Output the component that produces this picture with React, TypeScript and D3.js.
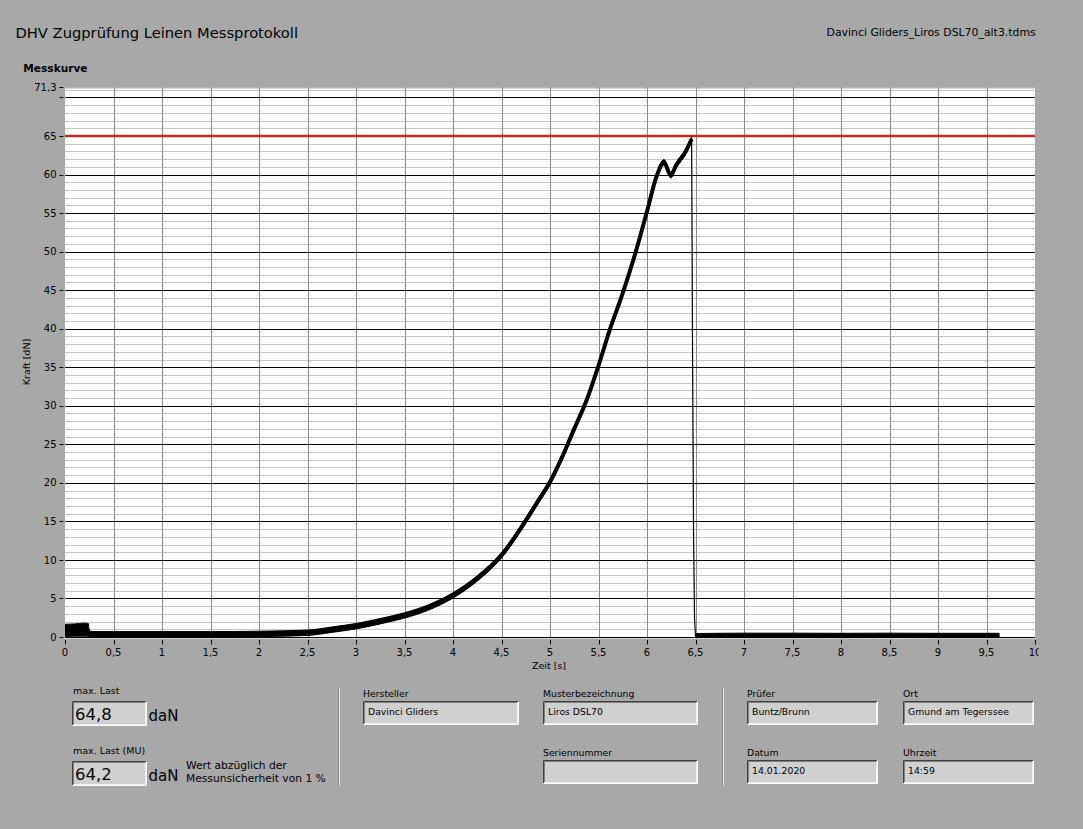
import React from "react";
import * as d3 from "d3";

// ---------- data ----------
const titleText = "DHV Zugprüfung Leinen Messprotokoll";
const fileName = "Davinci Gliders_Liros DSL70_alt3.tdms";
const chartTitle = "Messkurve";
const xAxisLabel = "Zeit [s]";
const yAxisLabel = "Kraft [dN]";

const xTickValues = [0, 0.5, 1, 1.5, 2, 2.5, 3, 3.5, 4, 4.5, 5, 5.5, 6, 6.5, 7, 7.5, 8, 8.5, 9, 9.5, 10];
const yTickValues = [0, 5, 10, 15, 20, 25, 30, 35, 40, 45, 50, 55, 60, 65, 70];
const yLabelValues = [0, 5, 10, 15, 20, 25, 30, 35, 40, 45, 50, 55, 60, 65];
const yMax = 71.3;
const limitForce = 65;

// measurement before the break (mean force and half-range of the noise band)
const riseTime = [0, 0.1, 0.2, 0.24, 0.25, 0.5, 1.0, 1.5, 2.0, 2.5, 2.75, 3.0, 3.25, 3.5, 3.75, 4.0, 4.25, 4.5, 4.75, 4.86, 5.0, 5.12, 5.25, 5.38, 5.5, 5.62, 5.75, 5.88, 6.0, 6.1, 6.175, 6.245, 6.3, 6.4, 6.46];
const riseForce = [0.85, 0.9, 0.95, 0.9, 0.35, 0.35, 0.35, 0.35, 0.4, 0.55, 0.95, 1.4, 2.05, 2.8, 3.85, 5.4, 7.6, 10.6, 15.1, 17.3, 20.1, 23.2, 27.0, 30.8, 35.2, 40.0, 44.6, 49.8, 55.2, 59.8, 61.6, 59.9, 61.2, 63.0, 64.6];
const riseSpread = [0.8, 0.8, 0.85, 0.85, 0.35, 0.35, 0.35, 0.35, 0.35, 0.35, 0.35, 0.35, 0.35, 0.35, 0.35, 0.35, 0.35, 0.35, 0.35, 0.35, 0.35, 0.35, 0.35, 0.35, 0.35, 0.35, 0.35, 0.35, 0.35, 0.35, 0.35, 0.35, 0.35, 0.35, 0.3];

// the break
const breakTime = [6.46, 6.47, 6.48, 6.49, 6.5];
const breakForce = [64.6, 36, 13.5, 2.5, 0];

// after the break
const restTime = [6.51, 7.0, 7.5, 8.0, 8.5, 9.0, 9.5, 9.63];
const restForce = [0.2, 0.22, 0.22, 0.2, 0.22, 0.2, 0.2, 0.2];
const restSpread = [0.25, 0.28, 0.28, 0.28, 0.28, 0.28, 0.28, 0.28];

// info panel
const maxLast = "64,8";
const maxLastMU = "64,2";
const unit = "daN";
const fields = [
  { label: "Hersteller", value: "Davinci Gliders" },
  { label: "Musterbezeichnung", value: "Liros DSL70" },
  { label: "Seriennummer", value: "" },
  { label: "Prüfer", value: "Buntz/Brunn" },
  { label: "Ort", value: "Gmund am Tegerssee" },
  { label: "Datum", value: "14.01.2020" },
  { label: "Uhrzeit", value: "14:59" },
];

// ---------- layout ----------
const W = 1083;
const H = 829;
const FONT = "'DejaVu Sans', Verdana, sans-serif";
const BG = "#a8a8a8";

const fieldBoxes: Record<string, { x: number; y: number; w: number; h: number }> = {
  Hersteller: { x: 363, y: 701, w: 156, h: 24 },
  Musterbezeichnung: { x: 543, y: 701, w: 155, h: 24 },
  Seriennummer: { x: 543, y: 760, w: 155, h: 24 },
  "Prüfer": { x: 747, y: 701, w: 131, h: 24 },
  Ort: { x: 903, y: 701, w: 131, h: 24 },
  Datum: { x: 747, y: 760, w: 131, h: 24 },
  Uhrzeit: { x: 903, y: 760, w: 131, h: 24 },
};

const fmt = (v: number) => String(v).replace(".", ",");

function SunkenBox({ x, y, w, h }: { x: number; y: number; w: number; h: number }) {
  return (
    <g>
      <rect x={x} y={y} width={w} height={h} fill="#d0d0d0" />
      <path d={`M${x + 0.5},${y + h} V${y + 0.5} H${x + w}`} stroke="#404040" strokeWidth={1} fill="none" />
      <path d={`M${x + 1.5},${y + h - 1} V${y + 1.5} H${x + w - 1}`} stroke="#808080" strokeWidth={1} fill="none" />
      <path d={`M${x},${y + h - 0.5} H${x + w - 0.5} V${y}`} stroke="#ffffff" strokeWidth={1} fill="none" />
      <path d={`M${x + 1},${y + h - 1.5} H${x + w - 1.5} V${y + 1}`} stroke="#f0f0f0" strokeWidth={1} fill="none" />
    </g>
  );
}

export default function App() {
  const x = d3.scaleLinear().domain([0, 10]).range([65, 1035]);
  const y = d3.scaleLinear().domain([0, yMax]).range([637, 87.4]);

  const plotL = x(0);
  const plotR = x(10);
  const plotT = y(yMax);
  const plotB = y(0) + 1.5;

  const minorY = d3.range(1, 72).filter((v) => v % 5 !== 0);

  const riseData = riseTime.map((t, i) => ({ t, v: riseForce[i], s: riseSpread[i] }));
  const restData = restTime.map((t, i) => ({ t, v: restForce[i], s: restSpread[i] }));
  const breakData = breakTime.map((t, i) => ({ t, v: breakForce[i] }));

  const band = d3
    .area<{ t: number; v: number; s: number }>()
    .x((d) => x(d.t))
    .y0((d) => y(d.v - d.s))
    .y1((d) => y(d.v + d.s))
    .curve(d3.curveMonotoneX);
  const smoothLine = d3
    .line<{ t: number; v: number }>()
    .x((d) => x(d.t))
    .y((d) => y(d.v))
    .curve(d3.curveMonotoneX);
  const line = d3
    .line<{ t: number; v: number }>()
    .x((d) => x(d.t))
    .y((d) => y(d.v));

  return (
    <div style={{ position: "absolute", left: 0, top: 0, width: W, height: H }}>
      <svg width={W} height={H} style={{ display: "block" }} fontFamily={FONT}>
        <defs>
          <clipPath id="plotClip">
            <rect x={plotL} y={plotT} width={plotR - plotL} height={plotB - plotT} />
          </clipPath>
          <clipPath id="xLabClip">
            <rect x={0} y={0} width={1038.5} height={H} />
          </clipPath>
        </defs>
        <rect x={0} y={0} width={W} height={H} fill={BG} />

        {/* header */}
        <text x={15.5} y={37.7} fontSize={14.7} fill="#000">{titleText}</text>
        <text x={826.5} y={36} fontSize={10.9} fill="#000">{fileName}</text>
        <text x={23.3} y={71.5} fontSize={10.6} fontWeight="bold" fill="#000">{chartTitle}</text>

        {/* plot area */}
        <rect x={plotL} y={plotT} width={plotR - plotL} height={plotB - plotT} fill="#ffffff" />
        <line x1={plotL} x2={plotR} y1={plotT + 0.5} y2={plotT + 0.5} stroke="#9a9a9a" />
        {minorY.map((v) => (
          <line key={"mn" + v} x1={plotL} x2={plotR} y1={Math.round(y(v)) + 0.5} y2={Math.round(y(v)) + 0.5} stroke="#c6c6c6" strokeWidth={1} />
        ))}
        {xTickValues.filter((t) => t > 0 && t < 10).map((t) => (
          <line key={"vx" + t} x1={Math.round(x(t)) + 0.5} x2={Math.round(x(t)) + 0.5} y1={plotT} y2={plotB} stroke="#8c8c8c" strokeWidth={1} />
        ))}
        {yTickValues.map((v) => (
          <line key={"mj" + v} x1={plotL} x2={plotR} y1={Math.round(y(v)) + 0.5} y2={Math.round(y(v)) + 0.5} stroke="#000" strokeWidth={1} />
        ))}
        <line x1={plotL} x2={plotR} y1={y(limitForce)} y2={y(limitForce)} stroke="#c42a22" strokeWidth={2.4} />

        {/* curve */}
        <g clipPath="url(#plotClip)">
          <path d={band(riseData) || ""} fill="#000" stroke="#000" strokeWidth={1} />
          <path d={smoothLine(riseData) || ""} fill="none" stroke="#000" strokeWidth={4} strokeLinejoin="round" />
          <path d={line(breakData) || ""} fill="none" stroke="#000" strokeWidth={1.2} />
          <path d={band(restData) || ""} fill="#000" stroke="#000" strokeWidth={1} />
        </g>

        {/* y axis */}
        {yTickValues.map((v) => (
          <line key={"yt" + v} x1={59} x2={63.5} y1={Math.round(y(v)) + 0.5} y2={Math.round(y(v)) + 0.5} stroke="#000" />
        ))}
        <line x1={59} x2={63.5} y1={Math.round(y(yMax)) + 0.5} y2={Math.round(y(yMax)) + 0.5} stroke="#000" />
        {yLabelValues.map((v) => (
          <text key={"yl" + v} x={56.5} y={y(v)} dy="0.36em" textAnchor="end" fontSize={10} fill="#000">{fmt(v)}</text>
        ))}
        <text x={56.5} y={y(yMax)} dy="0.36em" textAnchor="end" fontSize={10} fill="#000">{fmt(yMax)}</text>
        <text transform={`translate(30,362) rotate(-90)`} textAnchor="middle" fontSize={9.5} fill="#000">{yAxisLabel}</text>

        {/* x axis */}
        {xTickValues.map((t) => (
          <line key={"xt" + t} x1={Math.round(x(t)) + 0.5} x2={Math.round(x(t)) + 0.5} y1={640} y2={644.5} stroke="#000" />
        ))}
        <g clipPath="url(#xLabClip)">
          {xTickValues.map((t) => (
            <text key={"xl" + t} x={x(t)} y={656} textAnchor="middle" fontSize={10} fill="#000">{fmt(t)}</text>
          ))}
        </g>
        <text x={549} y={669} textAnchor="middle" fontSize={9.5} fill="#000">{xAxisLabel}</text>

        {/* info panel: max load */}
        <text x={73} y={694} fontSize={9.5} fill="#000">max. Last</text>
        <SunkenBox x={72} y={701} w={75} h={25} />
        <text x={75} y={720} fontSize={16.5} fill="#000">{maxLast}</text>
        <text x={148.5} y={721} fontSize={15} fill="#000">{unit}</text>

        <text x={73} y={754} fontSize={9.5} fill="#000">max. Last (MU)</text>
        <SunkenBox x={72} y={761} w={75} h={25} />
        <text x={75} y={780} fontSize={16.5} fill="#000">{maxLastMU}</text>
        <text x={148.5} y={781} fontSize={15} fill="#000">{unit}</text>
        <text x={186} y={769} fontSize={10.7} fill="#000">Wert abzüglich der</text>
        <text x={186} y={782} fontSize={10.7} fill="#000">Messunsicherheit von 1 %</text>

        {/* separators */}
        <line x1={338.5} x2={338.5} y1={688} y2={786} stroke="#8a8a8a" />
        <line x1={339.5} x2={339.5} y1={688} y2={786} stroke="#e6e6e6" />
        <line x1={722.5} x2={722.5} y1={688} y2={786} stroke="#8a8a8a" />
        <line x1={723.5} x2={723.5} y1={688} y2={786} stroke="#e6e6e6" />

        {fields.map((f) => {
          const b = fieldBoxes[f.label];
          return (
            <g key={f.label}>
              <text x={b.x} y={b.y - 4} fontSize={9.3} fill="#000">{f.label}</text>
              <SunkenBox x={b.x} y={b.y} w={b.w} h={b.h} />
              <text x={b.x + 5} y={b.y + 13.6} fontSize={9.3} fill="#000">{f.value}</text>
            </g>
          );
        })}
      </svg>
    </div>
  );
}
